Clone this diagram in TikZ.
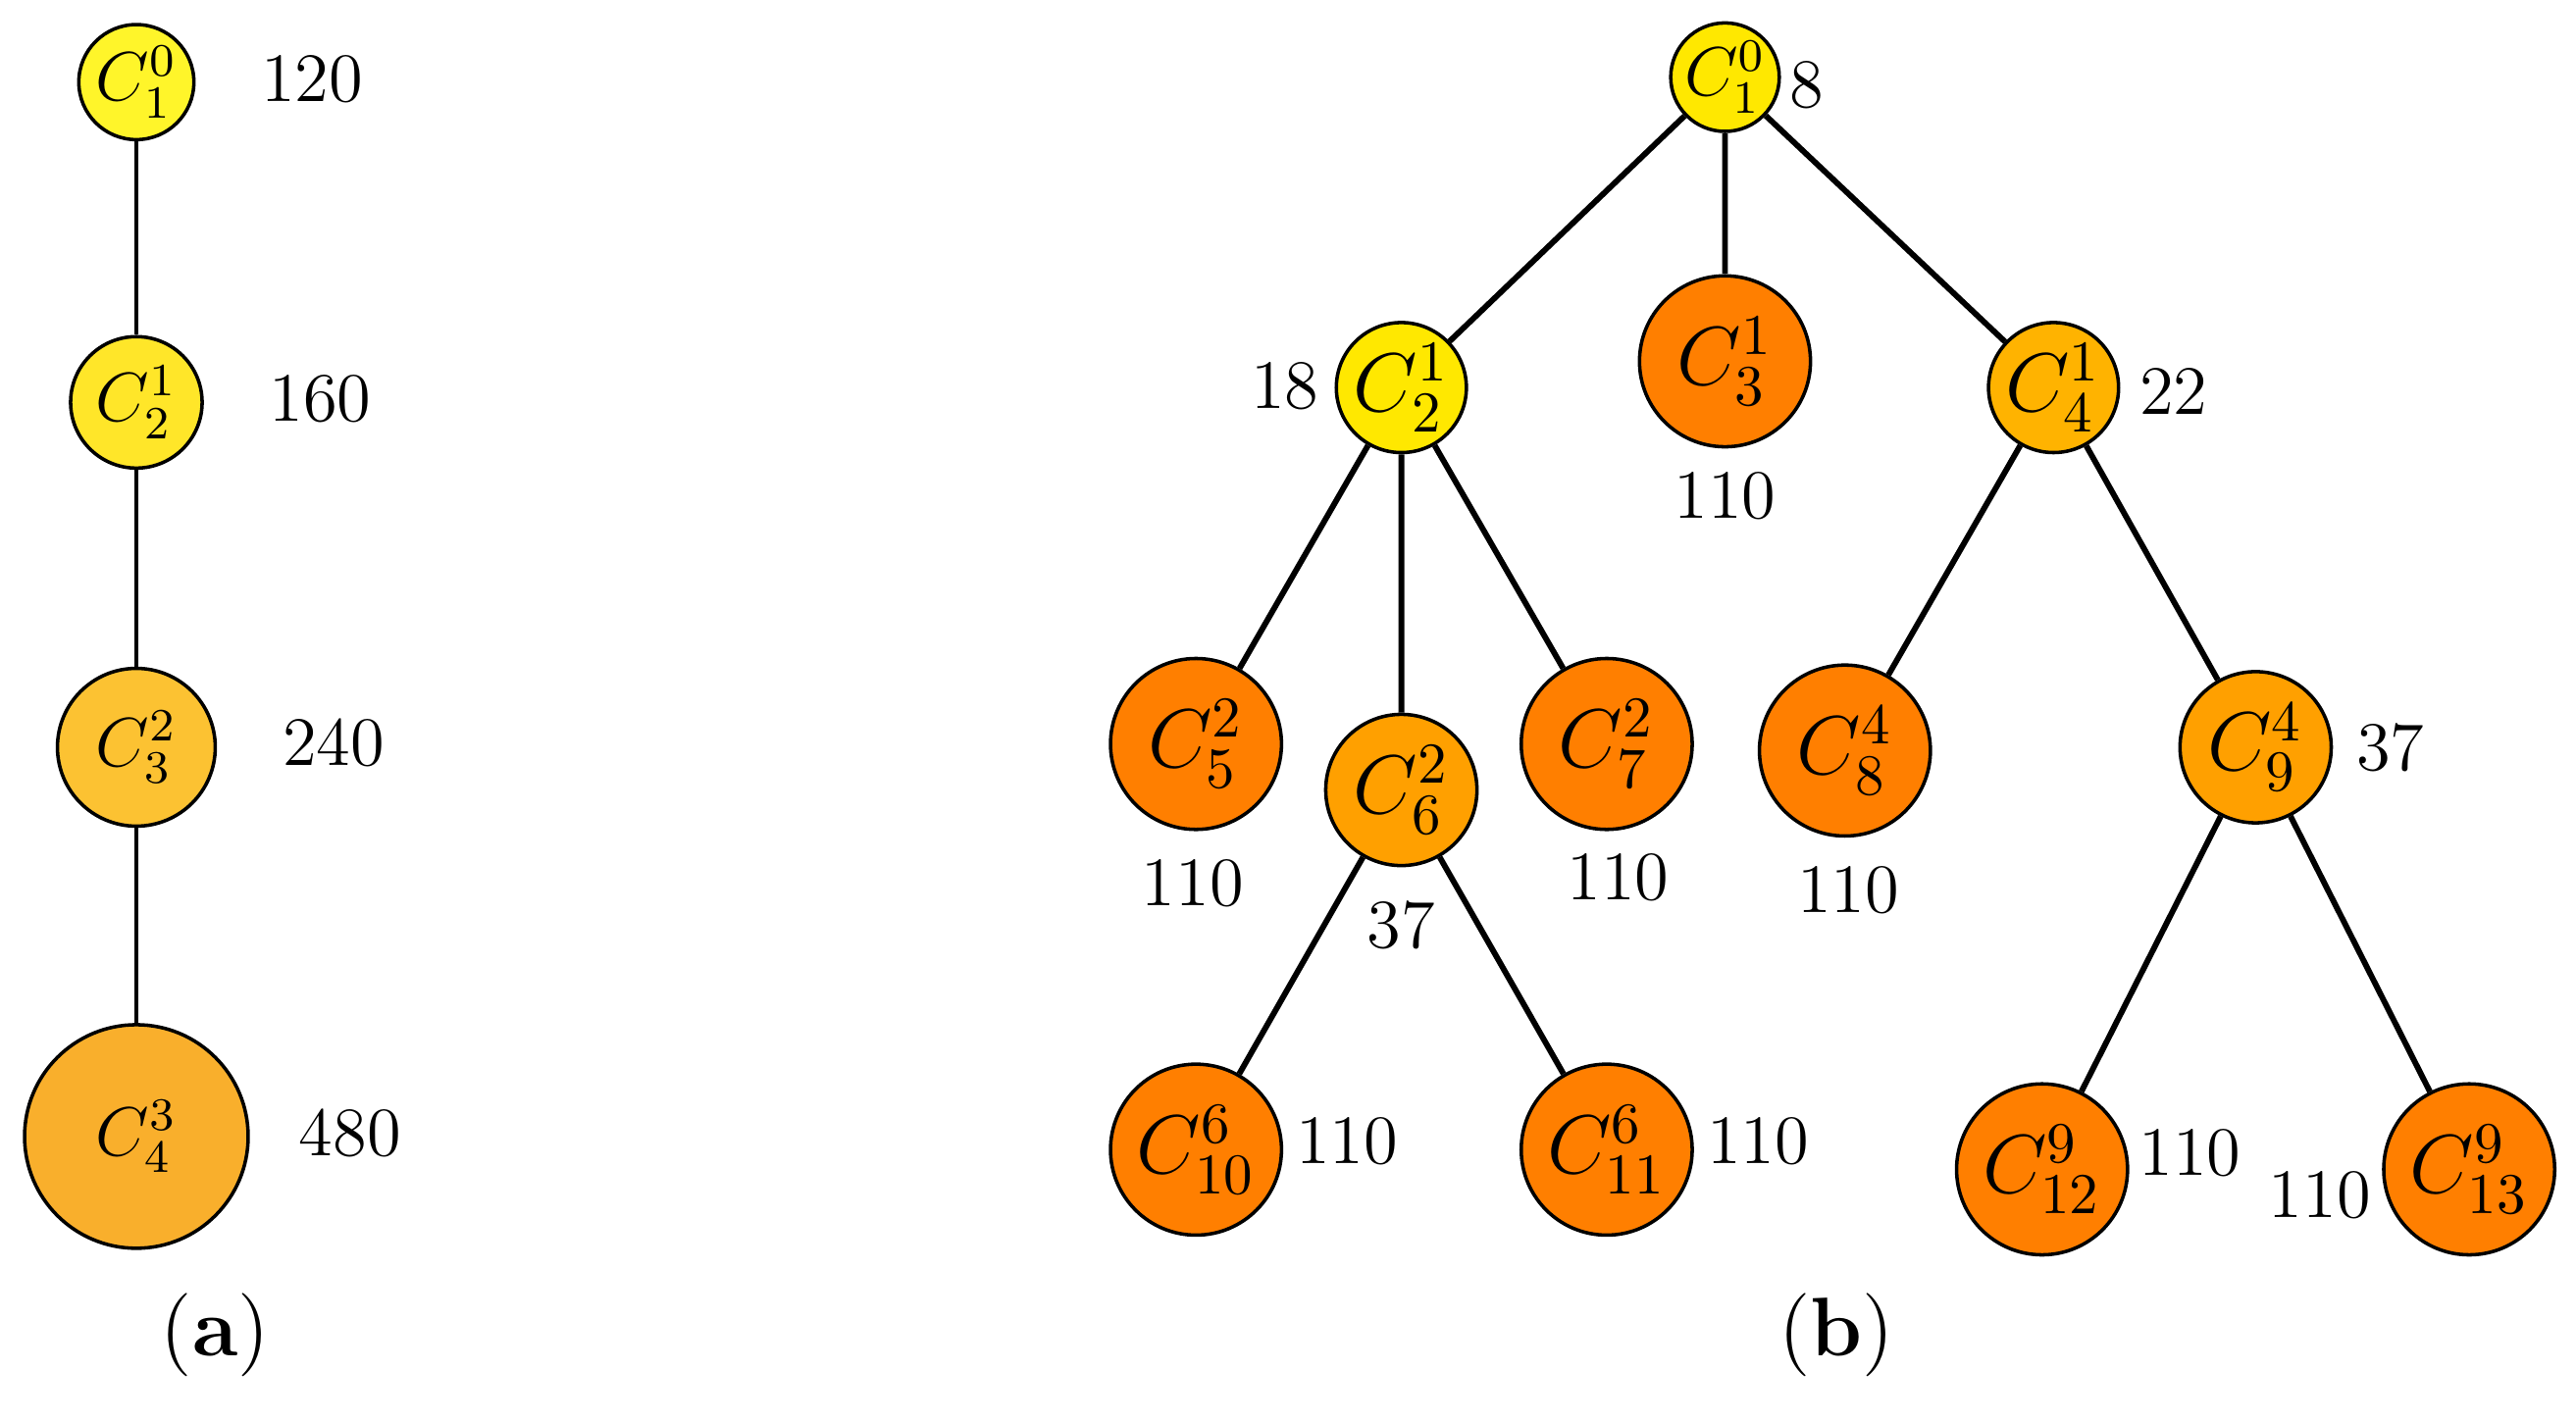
\documentclass[tikz,border=0pt]{standalone}
\begin{document}
\begin{tikzpicture}[x=0.01cm,y=-0.01cm,
  nd/.style={circle,draw,line width=0.6pt,inner sep=0pt,minimum size=#1*0.02cm,font=\large},
  ndb/.style={nd=#1,font=\Large},
  lb/.style={font=\large},
  la/.style={font=\large},
  ed/.style={line width=1pt},
  ea/.style={line width=0.6pt}]
\useasboundingbox (0,0) rectangle (1568,865);
\definecolor{ya}{HTML}{FFF52A}\definecolor{yb}{HTML}{FFE629}\definecolor{yc}{HTML}{FCC232}\definecolor{yd}{HTML}{F9AF2C}
\definecolor{yel}{HTML}{FFE800}\definecolor{lor}{HTML}{FFB300}\definecolor{mor}{HTML}{FFA000}\definecolor{org}{HTML}{FF7F00}
% (a)
\node[nd=35,fill=ya] (a1) at (83,50) {$C_1^0$};
\node[nd=40,fill=yb] (a2) at (83,245) {$C_2^1$};
\node[nd=48,fill=yc] (a3) at (83,455) {$C_3^2$};
\node[nd=68,fill=yd] (a4) at (83,692) {$C_4^3$};
\draw[ea] (a1)--(a2) (a2)--(a3) (a3)--(a4);
\node[la] (la1) at (190,48) {120};
\node[la] (la2) at (195,243) {160};
\node[la] (la3) at (203,452) {240};
\node[la] (la4) at (213,690) {480};
\node[font=\Large] (ca) at (131,813) {(\textbf{a})};
% (b)
\node[nd=29,fill=yel] (b1) at (1050,47) {$C_1^0$};
\node[ndb=37,fill=yel] (b2) at (853,236) {$C_2^1$};
\node[ndb=52,fill=org] (b3) at (1050,220) {$C_3^1$};
\node[ndb=38,fill=lor] (b4) at (1250,236) {$C_4^1$};
\node[ndb=52,fill=org] (b5) at (728,453) {$C_5^2$};
\node[ndb=46,fill=mor] (b6) at (853,481) {$C_6^2$};
\node[ndb=52,fill=org] (b7) at (978,453) {$C_7^2$};
\node[ndb=52,fill=org] (b8) at (1123,457) {$C_8^4$};
\node[ndb=46,fill=mor] (b9) at (1373,455) {$C_9^4$};
\node[ndb=52,fill=org] (b10) at (728,700) {$C_{10}^6$};
\node[ndb=52,fill=org] (b11) at (978,700) {$C_{11}^6$};
\node[ndb=52,fill=org] (b12) at (1243,712) {$C_{12}^9$};
\node[ndb=52,fill=org] (b13) at (1503,712) {$C_{13}^9$};
\draw[ed] (b1)--(b2) (b1)--(b3) (b1)--(b4) (b2)--(b5) (b2)--(b6) (b2)--(b7)
  (b4)--(b8) (b4)--(b9) (b6)--(b10) (b6)--(b11) (b9)--(b12) (b9)--(b13);
\node[lb] (l1) at (1100,52) {8};
\node[lb] (l2) at (782,235) {18};
\node[lb] (l3) at (1050,302) {110};
\node[lb] (l4) at (1323,238) {22};
\node[lb] (l5) at (726,538) {110};
\node[lb] (l6) at (853,563) {37};
\node[lb] (l7) at (985,534) {110};
\node[lb] (l8) at (1125,542) {110};
\node[lb] (l9) at (1455,455) {37};
\node[lb] (l10) at (820,695) {110};
\node[lb] (l11) at (1070,695) {110};
\node[lb] (l12) at (1333,702) {110};
\node[lb] (l13) at (1412,728) {110};
\node[font=\Large] (cb) at (1118,813) {(\textbf{b})};
\end{tikzpicture}
\end{document}
